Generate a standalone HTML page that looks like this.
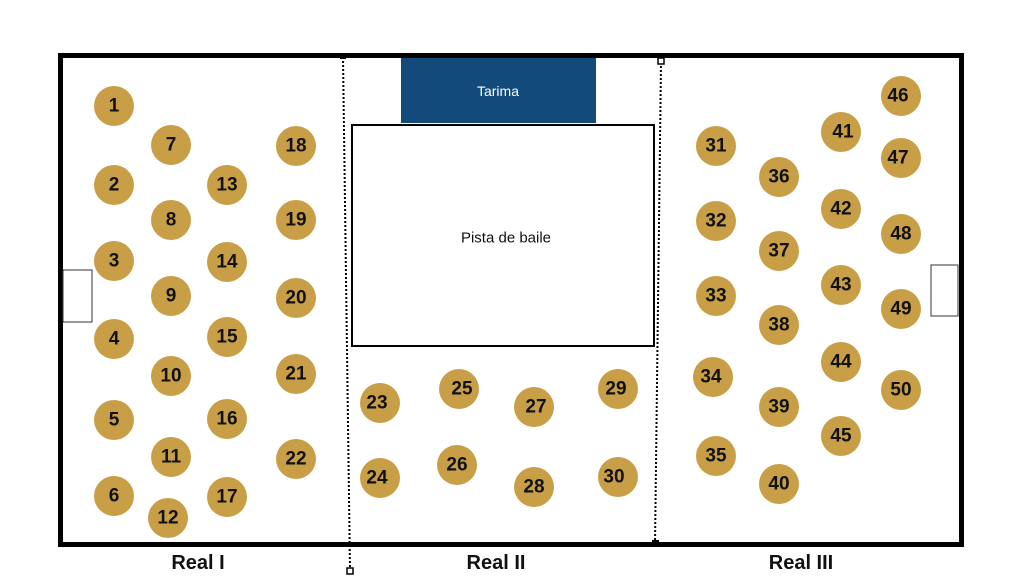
<!DOCTYPE html>
<html><head><meta charset="utf-8"><style>
html,body{margin:0;padding:0;background:#fff;}
svg{display:block;}
text{font-family:"Liberation Sans",sans-serif;}
.n{font-weight:bold;font-size:19px;fill:#111;text-anchor:middle;dominant-baseline:central;}
</style></head><body>
<svg width="1024" height="576" viewBox="0 0 1024 576" xmlns="http://www.w3.org/2000/svg">
<rect x="0" y="0" width="1024" height="576" fill="#fff"/>
<rect x="60.5" y="55.5" width="901" height="489" fill="none" stroke="#000" stroke-width="5"/>
<rect x="401" y="58" width="195" height="65" fill="#134A7C"/>
<text x="498" y="91" font-size="14" fill="#fff" text-anchor="middle" dominant-baseline="central">Tarima</text>
<rect x="352" y="125" width="302" height="221" fill="#fff" stroke="#000" stroke-width="2"/>
<text x="506" y="238" font-size="15" fill="#111" text-anchor="middle" dominant-baseline="central">Pista de baile</text>
<rect x="63" y="270" width="29" height="52" fill="#fff" stroke="#333" stroke-width="1"/>
<rect x="931" y="265" width="27" height="51" fill="#fff" stroke="#333" stroke-width="1"/>
<line x1="343" y1="57" x2="350" y2="570" stroke="#000" stroke-width="2" stroke-dasharray="2,2"/>
<rect x="340" y="53" width="6" height="6" fill="#000"/>
<rect x="347" y="568" width="6" height="6" fill="#fff" stroke="#000" stroke-width="1.5"/>
<line x1="661" y1="62" x2="655" y2="545" stroke="#000" stroke-width="2" stroke-dasharray="2,2"/>
<rect x="658" y="58" width="6" height="6" fill="#fff" stroke="#000" stroke-width="1.5"/>
<rect x="652" y="540" width="7" height="7" fill="#000"/>
<g fill="#C89F47">
<circle cx="114" cy="106" r="20"/><circle cx="114" cy="185" r="20"/><circle cx="114" cy="261" r="20"/><circle cx="114" cy="339" r="20"/><circle cx="114" cy="420" r="20"/><circle cx="114" cy="496" r="20"/>
<circle cx="171" cy="145" r="20"/><circle cx="171" cy="220" r="20"/><circle cx="171" cy="296" r="20"/><circle cx="171" cy="376" r="20"/><circle cx="171" cy="457" r="20"/><circle cx="168" cy="518" r="20"/>
<circle cx="227" cy="185" r="20"/><circle cx="227" cy="262" r="20"/><circle cx="227" cy="337" r="20"/><circle cx="227" cy="419" r="20"/><circle cx="227" cy="497" r="20"/>
<circle cx="296" cy="146" r="20"/><circle cx="296" cy="220" r="20"/><circle cx="296" cy="298" r="20"/><circle cx="296" cy="374" r="20"/><circle cx="296" cy="459" r="20"/>
<circle cx="380" cy="403" r="20"/><circle cx="380" cy="478" r="20"/><circle cx="459" cy="389" r="20"/><circle cx="457" cy="465" r="20"/><circle cx="534" cy="407" r="20"/><circle cx="534" cy="487" r="20"/><circle cx="618" cy="389" r="20"/><circle cx="618" cy="477" r="20"/>
<circle cx="716" cy="146" r="20"/><circle cx="716" cy="221" r="20"/><circle cx="716" cy="296" r="20"/><circle cx="713" cy="377" r="20"/><circle cx="716" cy="456" r="20"/>
<circle cx="779" cy="177" r="20"/><circle cx="779" cy="251" r="20"/><circle cx="779" cy="325" r="20"/><circle cx="779" cy="407" r="20"/><circle cx="779" cy="484" r="20"/>
<circle cx="841" cy="132" r="20"/><circle cx="841" cy="209" r="20"/><circle cx="841" cy="285" r="20"/><circle cx="841" cy="362" r="20"/><circle cx="841" cy="436" r="20"/>
<circle cx="901" cy="96" r="20"/><circle cx="901" cy="158" r="20"/><circle cx="901" cy="234" r="20"/><circle cx="901" cy="309" r="20"/><circle cx="901" cy="390" r="20"/>
</g>
<g class="n">
<text class="n" x="114" y="106">1</text><text class="n" x="114" y="185">2</text><text class="n" x="114" y="261">3</text><text class="n" x="114" y="339">4</text><text class="n" x="114" y="420">5</text><text class="n" x="114" y="496">6</text>
<text class="n" x="171" y="145">7</text><text class="n" x="171" y="220">8</text><text class="n" x="171" y="296">9</text><text class="n" x="171" y="376">10</text><text class="n" x="171" y="457">11</text><text class="n" x="168" y="518">12</text>
<text class="n" x="227" y="185">13</text><text class="n" x="227" y="262">14</text><text class="n" x="227" y="337">15</text><text class="n" x="227" y="419">16</text><text class="n" x="227" y="497">17</text>
<text class="n" x="296" y="146">18</text><text class="n" x="296" y="220">19</text><text class="n" x="296" y="298">20</text><text class="n" x="296" y="374">21</text><text class="n" x="296" y="459">22</text>
<text class="n" x="377" y="403">23</text><text class="n" x="377" y="478">24</text><text class="n" x="462" y="389">25</text><text class="n" x="457" y="465">26</text><text class="n" x="536" y="407">27</text><text class="n" x="534" y="487">28</text><text class="n" x="616" y="389">29</text><text class="n" x="614" y="477">30</text>
<text class="n" x="716" y="146">31</text><text class="n" x="716" y="221">32</text><text class="n" x="716" y="296">33</text><text class="n" x="711" y="377">34</text><text class="n" x="716" y="456">35</text>
<text class="n" x="779" y="177">36</text><text class="n" x="779" y="251">37</text><text class="n" x="779" y="325">38</text><text class="n" x="779" y="407">39</text><text class="n" x="779" y="484">40</text>
<text class="n" x="843" y="132">41</text><text class="n" x="841" y="209">42</text><text class="n" x="841" y="285">43</text><text class="n" x="841" y="362">44</text><text class="n" x="841" y="436">45</text>
<text class="n" x="898" y="96">46</text><text class="n" x="898" y="158">47</text><text class="n" x="901" y="234">48</text><text class="n" x="901" y="309">49</text><text class="n" x="901" y="390">50</text>
</g>
<g font-weight="bold" font-size="20" fill="#111" text-anchor="middle">
<text x="198" y="569">Real I</text>
<text x="496" y="569">Real II</text>
<text x="801" y="569">Real III</text>
</g>
</svg>
</body></html>
